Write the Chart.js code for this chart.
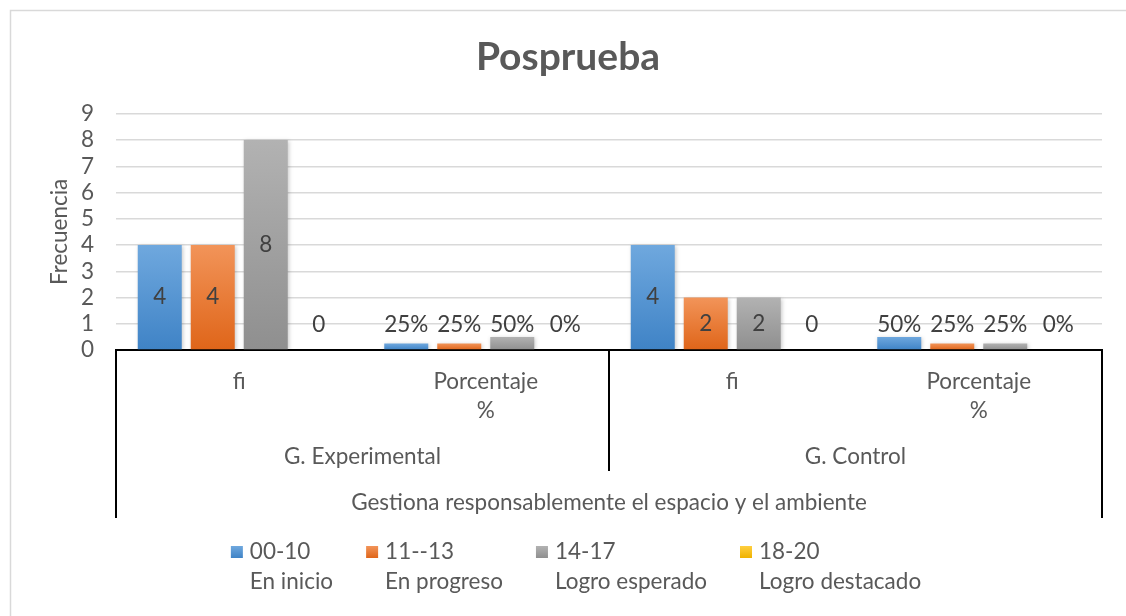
<!DOCTYPE html>
<html>
<head>
<meta charset="utf-8">
<script src="https://cdn.jsdelivr.net/npm/chart.js@4.4.1/dist/chart.umd.min.js"></script>
<style>
    html, body { margin: 0; padding: 0; background: #fff; }
    #wrap { width: 1126px; height: 616px; position: relative; }
</style>
</head>
<body>
<div id="wrap"><canvas id="chart" width="1126" height="616"></canvas></div>
<script>
    'use strict';

    // Data
    var categories = ['fi', ['Porcentaje', '%'], 'fi', ['Porcentaje', '%']];
    var groups = ['G. Experimental', 'G. Control'];
    var topGroup = 'Gestiona responsablemente el espacio y el ambiente';
    var seriesRanges = ['00-10', '11--13', '14-17', '18-20'];
    var seriesNames = ['En inicio', 'En progreso', 'Logro esperado', 'Logro destacado'];
    var enInicio = [4, 0.25, 4, 0.5];
    var enProgreso = [4, 0.25, 2, 0.25];
    var logroEsperado = [8, 0.5, 2, 0.25];
    var logroDestacado = [0, 0, 0, 0];
    var percentCategories = [1, 3];

    var FONT = 'Lato, Carlito, Calibri, sans-serif';
    var TEXT = '#595959';
    var FS = 22.5;

    var palette = [
        { base: '#5b9bd5', light: '#6fa8de', dark: '#3f83c6' },
        { base: '#ed7d31', light: '#f29459', dark: '#df6519' },
        { base: '#a5a5a5', light: '#b2b2b2', dark: '#8f8f8f' },
        { base: '#ffc000', light: '#ffcf40', dark: '#efb200' }
    ];

    function barFill(i) {
        return function (ctx) {
            var chart = ctx.chart;
            var c = palette[i];
            if (!chart.chartArea || ctx.raw === undefined) return c.base;
            var y = chart.scales.y;
            var top = y.getPixelForValue(ctx.raw);
            var bottom = y.getPixelForValue(0);
            if (bottom - top < 1) return c.base;
            var g = chart.ctx.createLinearGradient(0, top, 0, bottom);
            g.addColorStop(0, c.light);
            g.addColorStop(1, c.dark);
            return g;
        };
    }

    var seriesValues = [enInicio, enProgreso, logroEsperado, logroDestacado];

    var datasets = seriesValues.map(function (vals, i) {
        return {
            label: seriesRanges[i] + ' ' + seriesNames[i],
            data: vals,
            backgroundColor: barFill(i),
            borderWidth: 0,
            barPercentage: 0.83,
            categoryPercentage: 0.86
        };
    });

    // chart frame
    var framePlugin = {
        id: 'frame',
        beforeDraw: function (chart) {
            var ctx = chart.ctx;
            ctx.save();
            ctx.fillStyle = '#fff';
            ctx.fillRect(0, 0, chart.width, chart.height);
            ctx.strokeStyle = '#d9d9d9';
            ctx.lineWidth = 1.5;
            ctx.strokeRect(10.5, 10.5, 1300, 900);
            ctx.restore();
        }
    };

    // soft shadow on bars
    var shadowPlugin = {
        id: 'barShadow',
        beforeDatasetsDraw: function (chart) {
            var ctx = chart.ctx;
            ctx.save();
            ctx.shadowColor = 'rgba(0,0,0,0.22)';
            ctx.shadowBlur = 4;
            ctx.shadowOffsetX = 1;
            ctx.shadowOffsetY = 1;
        },
        afterDatasetsDraw: function (chart) {
            chart.ctx.restore();
        }
    };

    // value labels
    var labelPlugin = {
        id: 'valueLabels',
        afterDatasetsDraw: function (chart) {
            var ctx = chart.ctx;
            ctx.save();
            ctx.font = FS + 'px ' + FONT;
            ctx.fillStyle = '#404040';
            ctx.textAlign = 'center';
            ctx.textBaseline = 'middle';
            chart.data.datasets.forEach(function (ds, di) {
                var meta = chart.getDatasetMeta(di);
                meta.data.forEach(function (bar, idx) {
                    var v = ds.data[idx];
                    var text = percentCategories.indexOf(idx) >= 0 ? Math.round(v * 100) + '%' : String(v);
                    var cy = Math.min((bar.y + bar.base) / 2, bar.base - 25);
                    ctx.fillText(text, bar.x, cy);
                });
            });
            ctx.restore();
        }
    };

    // multi-level category axis + legend
    var axisPlugin = {
        id: 'multiAxis',
        afterDraw: function (chart) {
            var ctx = chart.ctx;
            var area = chart.chartArea;
            var x = chart.scales.x;
            var mid = (x.getPixelForValue(1) + x.getPixelForValue(2)) / 2;

            ctx.save();
            ctx.strokeStyle = '#000';
            ctx.lineWidth = 2;
            ctx.beginPath();
            ctx.moveTo(area.left, area.bottom);
            ctx.lineTo(area.left, 518);
            ctx.moveTo(mid, area.bottom);
            ctx.lineTo(mid, 471);
            ctx.moveTo(area.right, area.bottom);
            ctx.lineTo(area.right, 518);
            ctx.stroke();

            ctx.font = FS + 'px ' + FONT;
            ctx.fillStyle = TEXT;
            ctx.textAlign = 'center';
            ctx.textBaseline = 'middle';
            ctx.fillText(groups[0], (area.left + mid) / 2, 457);
            ctx.fillText(groups[1], (mid + area.right) / 2, 457);
            ctx.fillText(topGroup, (area.left + area.right) / 2, 503);

            // legend
            var sq = 12, gapText = 7, gapItem = 33;
            var widths = seriesNames.map(function (n, i) {
                return sq + gapText + Math.max(ctx.measureText(n).width, ctx.measureText(seriesRanges[i]).width);
            });
            var total = widths.reduce(function (a, b) { return a + b; }, 0) + gapItem * (widths.length - 1);
            var lx = 576 - total / 2;
            ctx.textAlign = 'left';
            widths.forEach(function (w, i) {
                var c = palette[i];
                var g = ctx.createLinearGradient(0, 546, 0, 558);
                g.addColorStop(0, c.light);
                g.addColorStop(1, c.dark);
                ctx.fillStyle = g;
                ctx.fillRect(lx, 546, sq, sq);
                ctx.fillStyle = TEXT;
                ctx.fillText(seriesRanges[i], lx + sq + gapText, 552);
                ctx.fillText(seriesNames[i], lx + sq + gapText, 582);
                lx += w + gapItem;
            });
            ctx.restore();
        }
    };

    new Chart(document.getElementById('chart'), { //eslint-disable-line
        type: 'bar',
        data: {
            labels: categories,
            datasets: datasets
        },
        plugins: [framePlugin, shadowPlugin, labelPlugin, axisPlugin],
        options: {
            responsive: false,
            animation: false,
            layout: { padding: { left: 34, right: 24, top: 0, bottom: 0 } },
            plugins: {
                legend: { display: false },
                tooltip: { enabled: false },
                title: {
                    display: true,
                    text: 'Posprueba',
                    color: TEXT,
                    font: { family: FONT, size: 39, weight: 'bold', lineHeight: 1.2 },
                    padding: { top: 34, bottom: 33 }
                }
            },
            scales: {
                x: {
                    grid: { display: false, drawTicks: false },
                    border: { display: true, color: '#000', width: 2 },
                    ticks: {
                        color: TEXT,
                        font: { family: FONT, size: FS, lineHeight: 1.3 },
                        padding: 17,
                        maxRotation: 0,
                        autoSkip: false
                    },
                    afterFit: function (scale) { scale.height = 266; }
                },
                y: {
                    min: 0,
                    max: 9,
                    ticks: {
                        stepSize: 1,
                        autoSkip: false,
                        color: TEXT,
                        font: { family: FONT, size: FS },
                        padding: 22
                    },
                    grid: { color: '#d9d9d9', lineWidth: 1.5, drawTicks: false },
                    border: { display: false },
                    title: {
                        display: true,
                        text: 'Frecuencia',
                        color: TEXT,
                        font: { family: FONT, size: FS },
                        padding: { top: 12, bottom: 0 }
                    },
                    afterFit: function (scale) { scale.width = 82; }
                }
            }
        }
    });
</script>
</body>
</html>
